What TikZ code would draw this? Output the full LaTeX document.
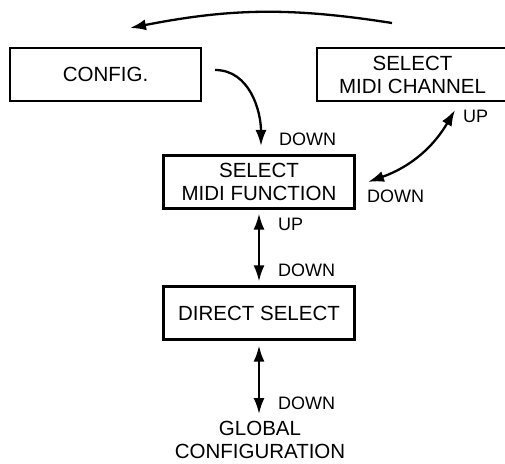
\documentclass[tikz,border=0pt]{standalone}
\usepackage{fontspec}
\setmainfont{Liberation Sans}
\usetikzlibrary{positioning}
\usetikzlibrary{arrows.meta}
\tikzset{MenuBox/.style={draw,line width=2.2pt,minimum width=191pt,minimum height=53pt,
    align=center,font=\fontsize{20.5}{23}\selectfont,inner sep=0pt}}
\tikzset{KeyLabel/.style={anchor=west,inner sep=0pt,font=\fontsize{18}{20}\selectfont}}
\tikzset{KeyArrow/.style={line width=2.3pt,-{Latex[length=16pt,width=11pt]}}}
\tikzset{BothArrow/.style={line width=2.3pt,{Latex[length=16pt,width=11pt]}-{Latex[length=16pt,width=11pt]}}}

\begin{document}
\begin{tikzpicture}[x=1pt,y=1pt]
        \useasboundingbox (0,0) rectangle (505,463);
        \node[MenuBox] (config) at (105.5,388.5) {CONFIG.};
        \node[MenuBox] (channel) at (412.5,388.5) {SELECT\\MIDI CHANNEL};
        \node[MenuBox] (function) at (259,281) {SELECT\\MIDI FUNCTION};
        \node[MenuBox] (direct) at (259,150) {DIRECT SELECT};
        \node[align=center,inner sep=0pt,font=\fontsize{20.5}{23}\selectfont] (global) at (260,23) {GLOBAL\\CONFIGURATION};
        \coordinate (topstart) at (392,440);
        \coordinate (topend) at (130,435);
        \coordinate (cfgstart) at (215,393);
        \coordinate (cfgend) at (261,317);
        \coordinate (chanend) at (455,353);
        \coordinate (funcend) at (368,281);
        % labels
        \node[KeyLabel] (down1) at (279,323.5) {DOWN};
        \node[KeyLabel] (up1) at (463,346.5) {UP};
        \node[KeyLabel] (down2) at (367,267) {DOWN};
        \node[KeyLabel] (up2) at (278,239) {UP};
        \node[KeyLabel] (down3) at (278,192.5) {DOWN};
        \node[KeyLabel] (down4) at (278,59.5) {DOWN};
        % arrows
        \draw[KeyArrow] (topstart) to[bend right=10] (topend);
        \draw[KeyArrow] (cfgstart) to[out=0,in=90] (cfgend);
        \draw[BothArrow] (chanend) to[bend left=20] (funcend);
        \draw[BothArrow,shorten <=4pt,shorten >=4pt] (function.south) -- (direct.north);
        \draw[BothArrow,shorten <=5pt,shorten >=7pt] (direct.south) -- (direct.south |- global.north);
\end{tikzpicture}
\end{document}
